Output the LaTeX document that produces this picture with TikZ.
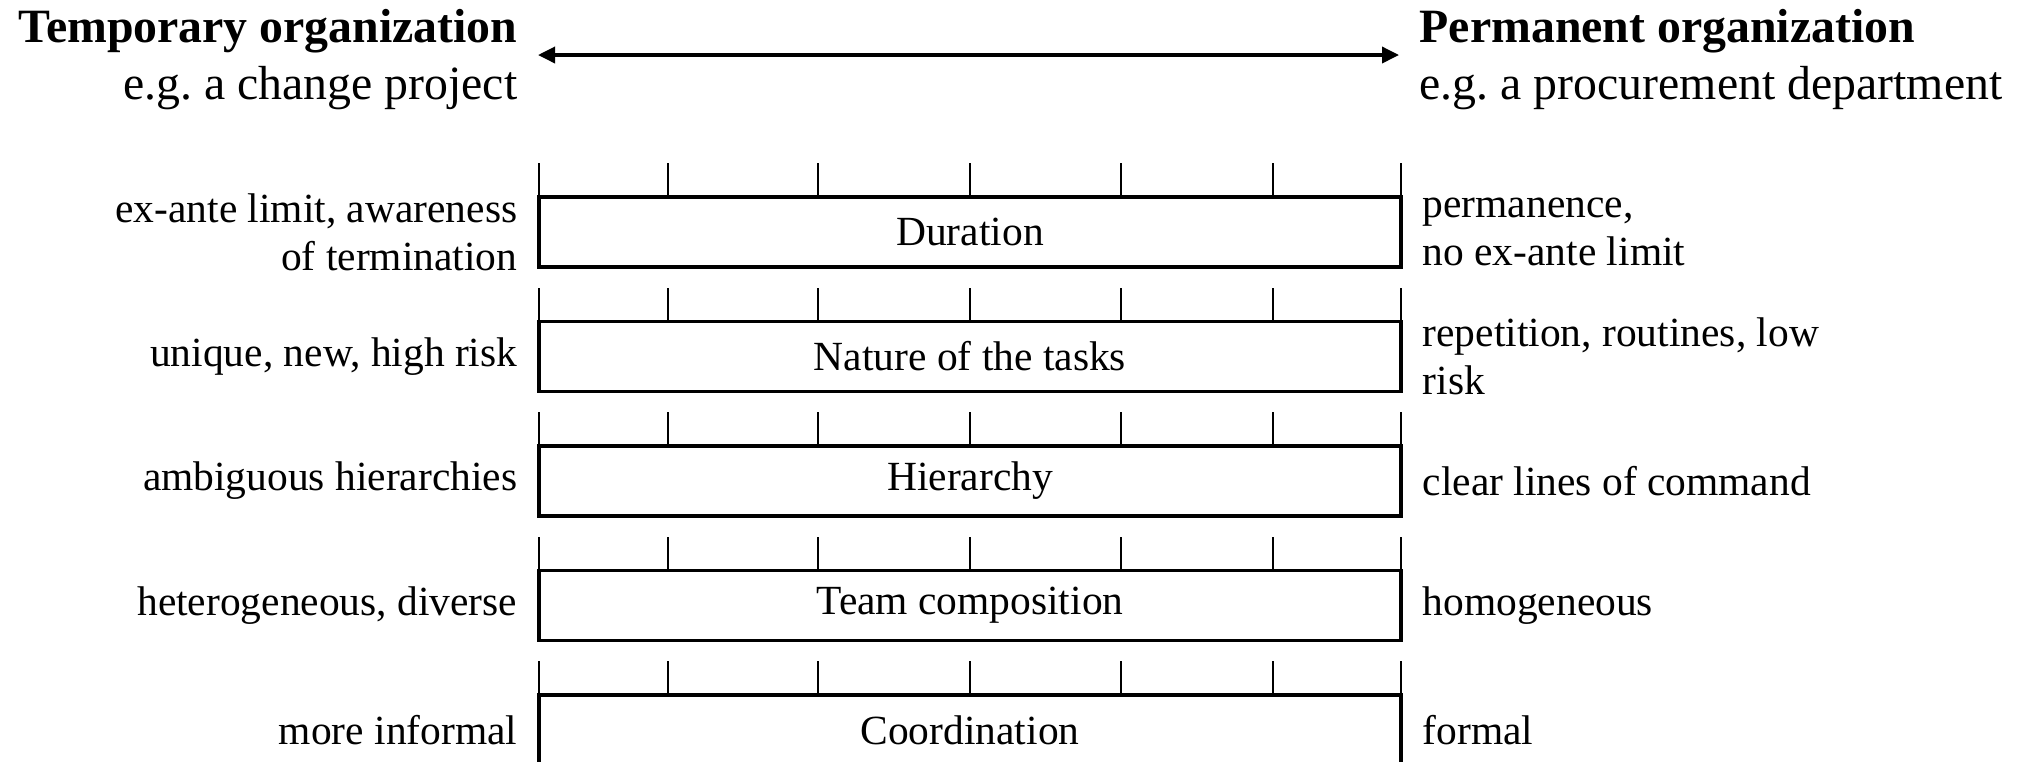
\documentclass[tikz,border=0pt]{standalone}
\usepackage{fontspec}
\setmainfont{Liberation Serif}
\frenchspacing
\usetikzlibrary{positioning,arrows.meta}
\tikzset{
    bar/.style ={
        shape=rectangle,
        draw=black,
        line width=0.9pt,
        minimum width=8.62cm,
        minimum height=0.70cm,
        inner sep=0pt,
        outer sep=0pt,
        font=\fontsize{11.8pt}{13.7pt}\selectfont
    },
    lefttext/.style ={
        align=right,
        inner sep=0pt,
        font=\fontsize{11.8pt}{13.7pt}\selectfont
    },
    righttext/.style ={
        align=left,
        inner sep=0pt,
        font=\fontsize{11.8pt}{13.7pt}\selectfont
    },
    headtext/.style ={
        inner sep=0pt,
        font=\fontsize{13.6pt}{15.9pt}\selectfont
    },
    tickline/.style ={
        line width=0.7pt
    },
    span/.style ={
        line width=1pt,
        {Triangle[length=0.17cm,width=0.16cm]}-{Triangle[length=0.17cm,width=0.16cm]}
    }
}
\begin{document}
\begin{tikzpicture}
    \useasboundingbox (0,0) rectangle (20.30,-7.61);
    \node[headtext,anchor=base east] (temp) at (5.18,-0.427) {\textbf{Temporary organization}};
    \node[headtext,anchor=base east] (tempeg) at (5.18,-0.99) {e.g. a change project};
    \node[headtext,anchor=base west] (perm) at (14.19,-0.427) {\textbf{Permanent organization}};
    \node[headtext,anchor=base west] (permeg) at (14.19,-0.99) {e.g. a procurement department};
    \coordinate (spanl) at (5.38,-0.55);
    \coordinate (spanr) at (13.99,-0.55);
    \draw[span] (spanl) -- (spanr);
    \node[bar] (dur) at (9.70,-2.32) {Duration};
    \node[bar,below=0.545cm of dur] (nat) {Nature of the tasks};
    \node[bar,below=0.545cm of nat] (hier) {Hierarchy};
    \node[bar,below=0.545cm of hier] (team) {Team composition};
    \node[bar,below=0.545cm of team] (coord) {Coordination};
    \node[lefttext,left=0.21cm of dur] (durl) {ex-ante limit, awareness\\of termination};
    \node[righttext,right=0.21cm of dur] (durr) {permanence,\\no ex-ante limit};
    \node[lefttext,left=0.21cm of nat] (natl) {unique, new, high risk};
    \node[righttext,right=0.21cm of nat] (natr) {repetition, routines, low\\risk};
    \node[lefttext,left=0.21cm of hier] (hierl) {ambiguous hierarchies};
    \node[righttext,right=0.21cm of hier] (hierr) {clear lines of command};
    \node[lefttext,left=0.21cm of team] (teaml) {heterogeneous, diverse};
    \node[righttext,right=0.21cm of team] (teamr) {homogeneous};
    \node[lefttext,left=0.21cm of coord] (coordl) {more informal};
    \node[righttext,right=0.21cm of coord] (coordr) {formal};
    \foreach \r in {dur,nat,hier,team,coord}
        \foreach \x in {0,1.29,2.79,4.31,5.82,7.34,8.62}
            \draw[tickline] ([xshift=\x cm]\r.north west) -- ++(0,0.34);
\end{tikzpicture}
\end{document}
